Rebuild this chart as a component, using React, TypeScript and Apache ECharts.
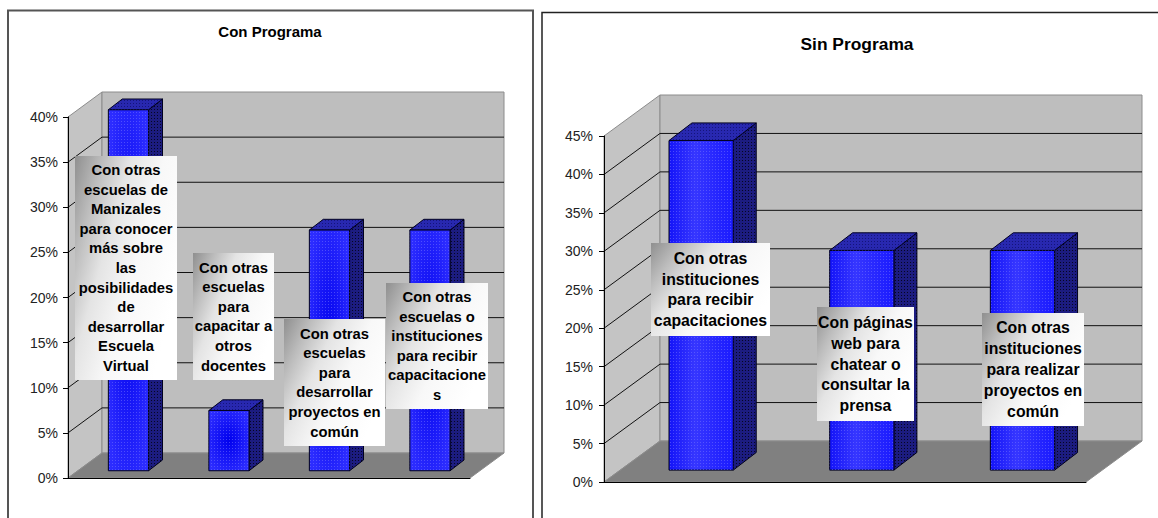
import React, { useEffect, useRef } from "react";
import * as echarts from "echarts";

const conCategories = [
  "Con otras\nescuelas de\nManizales\npara conocer\nmás sobre\nlas\nposibilidades\nde\ndesarrollar\nEscuela\nVirtual",
  "Con otras\nescuelas\npara\ncapacitar a\notros\ndocentes",
  "Con otras\nescuelas\npara\ndesarrollar\nproyectos en\ncomún",
  "Con otras\nescuelas o\ninstituciones\npara recibir\ncapacitacione\ns",
];
const conValues = [40, 6.67, 26.67, 26.67];
const conTicks = [5, 10, 15, 20, 25, 30, 35];

const sinCategories = [
  "Con otras\ninstituciones\npara recibir\ncapacitaciones",
  "Con páginas\nweb para\nchatear o\nconsultar la\nprensa",
  "Con otras\ninstituciones\npara realizar\nproyectos en\ncomún",
];
const sinValues = [42.86, 28.57, 28.57];
const sinTicks = [5, 10, 15, 20, 25, 30, 35, 40];

// Layout only: label boxes [x, y, w, h], moved by hand in the original
const conBoxes = [
  [75, 156, 102, 224],
  [193, 253, 81, 127],
  [284, 319, 101, 127],
  [386, 283, 102, 126],
];
const sinBoxes = [
  [651, 243, 119, 93],
  [817, 307, 97, 114],
  [982, 313, 102, 113],
];
const FONT = '"Liberation Sans", Arial, sans-serif';

function dots(color: string) {
  const c = document.createElement("canvas");
  c.width = 3;
  c.height = 3;
  const g = c.getContext("2d")!;
  g.fillStyle = color;
  g.fillRect(1, 1, 1, 1);
  return { image: c, repeat: "repeat", imageWidth: 3, imageHeight: 3 };
}

function walls(ticks: number[], dx: number, dy: number) {
  return (params: any, api: any) => {
    const r = params.coordSys;
    const x0 = r.x, x1 = r.x + r.width, yB = r.y + r.height, yT = r.y;
    const edge = { stroke: "#8c8c8c", lineWidth: 1 };
    const kids: any[] = [
      { type: "polygon", shape: { points: [[x0, yB], [x0, yT], [x0 + dx, yT - dy], [x0 + dx, yB - dy]] }, style: { fill: "#c4c4c4", ...edge } },
      { type: "polygon", shape: { points: [[x0 + dx, yB - dy], [x0 + dx, yT - dy], [x1 + dx, yT - dy], [x1 + dx, yB - dy]] }, style: { fill: "#bebebe", ...edge } },
      { type: "polygon", shape: { points: [[x0, yB], [x0 + dx, yB - dy], [x1 + dx, yB - dy], [x1, yB]] }, style: { fill: "#808080", ...edge } },
    ];
    for (const t of ticks) {
      const y = api.coord([0, t])[1];
      kids.push({
        type: "polyline",
        shape: { points: [[x0, y], [x0 + dx, y - dy], [x1 + dx, y - dy]] },
        style: { stroke: "#111", lineWidth: 1, fill: "none" },
      });
    }
    return { type: "group", children: kids };
  };
}

function bars(dx: number, dy: number, faceFill: (i: number) => any) {
  const frontX = 0.3 * dx, frontY = 0.29 * dy, depthX = 0.41 * dx, depthY = 0.43 * dy;
  const facePat = dots("rgba(120,120,255,0.5)");
  const sidePat = dots("rgba(0,0,10,0.8)");
  const topPat = dots("rgba(15,15,110,0.8)");
  return (params: any, api: any) => {
    const i = api.value(0);
    const top = api.coord([i, api.value(1)]);
    const base = api.coord([i, 0]);
    const w = api.size([1, 0])[0] * 0.4;
    const l = base[0] + frontX - w / 2, r = l + w;
    const yT = top[1] - frontY, yB = base[1] - frontY;
    const line = { stroke: "#00001e", lineWidth: 1 };
    const side = [[r, yT], [r + depthX, yT - depthY], [r + depthX, yB - depthY], [r, yB]];
    const cap = [[l, yT], [l + depthX, yT - depthY], [r + depthX, yT - depthY], [r, yT]];
    return {
      type: "group",
      children: [
        { type: "polygon", shape: { points: side }, style: { fill: "#1c1c80", ...line } },
        { type: "polygon", shape: { points: side }, style: { fill: sidePat, stroke: "none" } },
        { type: "polygon", shape: { points: cap }, style: { fill: "#2828b0", ...line } },
        { type: "polygon", shape: { points: cap }, style: { fill: topPat, stroke: "none" } },
        { type: "rect", shape: { x: l, y: yT, width: w, height: yB - yT }, style: { fill: faceFill(i), ...line } },
        { type: "rect", shape: { x: l, y: yT, width: w, height: yB - yT }, style: { fill: facePat, stroke: "none" } },
      ],
    };
  };
}

function labels(categories: string[], boxes: number[][], fontSize: number, lineHeight: number) {
  const boxFill = new echarts.graphic.LinearGradient(0, 0, 1, 0.6, [
    { offset: 0, color: "#8f8f8f" },
    { offset: 0.2, color: "#bcbcbc" },
    { offset: 0.4, color: "#e4e4e4" },
    { offset: 0.65, color: "#f8f8f8" },
    { offset: 1, color: "#ffffff" },
  ]);
  return (params: any, api: any) => {
    const i = api.value(0);
    const [x, y, w, h] = boxes[i];
    return {
      type: "group",
      children: [
        { type: "rect", shape: { x, y, width: w, height: h }, style: { fill: boxFill, stroke: "none" } },
        {
          type: "text",
          style: {
            text: categories[i],
            x: x + w / 2,
            y: y + h / 2,
            align: "center",
            verticalAlign: "middle",
            fill: "#000",
            fontFamily: FONT,
            fontWeight: "bold",
            fontSize,
            lineHeight,
          },
        },
      ],
    };
  };
}

function chartSeries(index: number, categories: string[], values: number[], ticks: number[], boxes: number[][], dx: number, dy: number, faceFill: (i: number) => any, fontSize: number, lineHeight: number) {
  const common = { type: "custom", xAxisIndex: index, yAxisIndex: index, clip: false, silent: true };
  const rows = values.map((v, i) => [i, v]);
  return [
    { ...common, z: 1, renderItem: walls(ticks, dx, dy), data: [[0, 0]], encode: { x: 0, y: 1 } },
    { ...common, z: 3, renderItem: bars(dx, dy, faceFill), data: rows, encode: { x: 0, y: 1 } },
    { ...common, z: 4, renderItem: labels(categories, boxes, fontSize, lineHeight), data: rows, encode: { x: 0, y: 1 } },
  ];
}

function xAxis(gridIndex: number, data: string[]) {
  return {
    type: "category",
    gridIndex,
    data,
    z: 2,
    axisLine: { show: true, lineStyle: { color: "#000", width: 1 } },
    axisTick: { show: false },
    axisLabel: { show: false },
    splitLine: { show: false },
  };
}

function yAxis(gridIndex: number, max: number, margin: number) {
  return {
    type: "value",
    gridIndex,
    min: 0,
    max,
    interval: 5,
    z: 2,
    axisLine: { show: true, lineStyle: { color: "#000", width: 1 } },
    axisTick: { show: true, length: 5, lineStyle: { color: "#000", width: 1 } },
    axisLabel: { formatter: "{value}%", color: "#222", fontFamily: FONT, fontSize: 14, margin },
    splitLine: { show: false },
  };
}

export default function App() {
  const ref = useRef<HTMLDivElement>(null);
  useEffect(() => {
    document.body.style.margin = "0";
    const chart = echarts.init(ref.current!, undefined, { renderer: "svg" });
    const radial = new echarts.graphic.RadialGradient(0.5, 0.5, 0.6, [
      { offset: 0, color: "#0000ee" },
      { offset: 1, color: "#2c2cff" },
    ]);
    const linear = new echarts.graphic.LinearGradient(0, 0, 1, 0, [
      { offset: 0, color: "#1414f8" },
      { offset: 0.4, color: "#3636ff" },
      { offset: 1, color: "#1a1aff" },
    ]);
    chart.setOption({
      animation: false,
      backgroundColor: "#ffffff",
      title: [
        { text: "Con Programa", left: 265, top: 19, textAlign: "center", textStyle: { fontFamily: FONT, fontSize: 15, fontWeight: "bold", color: "#000" } },
        { text: "Sin Programa", left: 852, top: 30, textAlign: "center", textStyle: { fontFamily: FONT, fontSize: 17.4, fontWeight: "bold", color: "#000" } },
      ],
      grid: [
        { left: 68, top: 117, width: 402, height: 361 },
        { left: 604, top: 136, width: 482, height: 346 },
      ],
      xAxis: [xAxis(0, conCategories), xAxis(1, sinCategories)],
      yAxis: [yAxis(0, 40, 10), yAxis(1, 45, 11)],
      graphic: [
        { type: "polyline", shape: { points: [[8, 518], [8, 10.5], [533, 10.5], [533, 518]] }, style: { stroke: "#555", lineWidth: 2, fill: "none" } },
        { type: "polyline", shape: { points: [[542, 518], [542, 12.5], [1158, 12.5]] }, style: { stroke: "#222", lineWidth: 1.5, fill: "none" } },
      ],
      series: [
        ...chartSeries(0, conCategories, conValues, conTicks, conBoxes, 34, 25, () => radial, 14.8, 19.6),
        ...chartSeries(1, sinCategories, sinValues, sinTicks, sinBoxes, 56, 41, () => linear, 15.8, 20.8),
      ],
    });
    return () => chart.dispose();
  }, []);
  return <div ref={ref} style={{ position: "absolute", left: 0, top: 0, width: 1158, height: 518 }} />;
}
